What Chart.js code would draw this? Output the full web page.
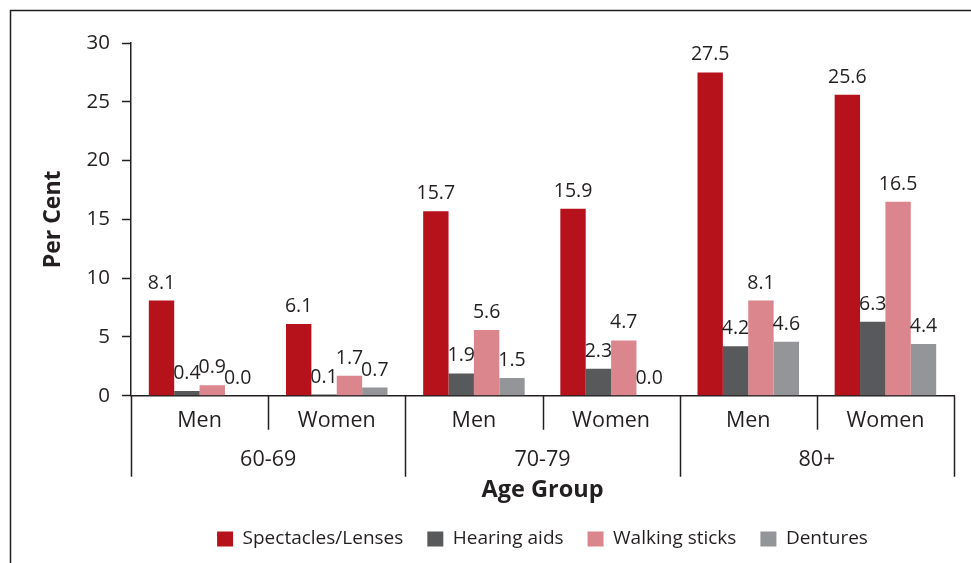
<!DOCTYPE html>
<html>
<head>
<meta charset="utf-8">
<script src="https://cdn.jsdelivr.net/npm/chart.js@4"></script>
<style>
  html, body { margin: 0; padding: 0; background: #ffffff; overflow: hidden; }
  #wrap { width: 971px; height: 563px; }
</style>
</head>
<body>
<div id="wrap"><canvas id="c" width="971" height="563"></canvas></div>
<script>
// ---- data ----
const ageGroups = ['60-69', '70-79', '80+'];
const sexes = ['Men', 'Women'];
const categories = ['Men', 'Women', 'Men', 'Women', 'Men', 'Women'];
const seriesNames = ['Spectacles/Lenses', 'Hearing aids', 'Walking sticks', 'Dentures'];
const spectacles = [8.1, 6.1, 15.7, 15.9, 27.5, 25.6];
const hearingAids = [0.4, 0.1, 1.9, 2.3, 4.2, 6.3];
const walkingSticks = [0.9, 1.7, 5.6, 4.7, 8.1, 16.5];
const dentures = [0.0, 0.7, 1.5, 0.0, 4.6, 4.4];
const yMin = 0, yMax = 30, yStep = 5;

const seriesColors = ['#b5121b', '#58595b', '#db868c', '#939598'];
const textColor = '#231f20';
const FONT = "'Open Sans', 'Noto Sans', sans-serif";

// frame around the figure
const framePlugin = {
  id: 'frame',
  beforeDraw(chart) {
    const ctx = chart.ctx;
    ctx.save();
    ctx.strokeStyle = textColor;
    ctx.lineWidth = 1.5;
    ctx.beginPath();
    ctx.moveTo(10.5, chart.height);
    ctx.lineTo(10.5, 10.5);
    ctx.lineTo(chart.width, 10.5);
    ctx.stroke();
    ctx.restore();
  }
};

// value labels above bars
const valueLabels = {
  id: 'valueLabels',
  afterDatasetsDraw(chart) {
    const ctx = chart.ctx;
    ctx.save();
    ctx.font = "19.5px " + FONT;
    ctx.fillStyle = textColor;
    ctx.textAlign = 'center';
    ctx.textBaseline = 'alphabetic';
    chart.data.datasets.forEach((ds, di) => {
      const meta = chart.getDatasetMeta(di);
      meta.data.forEach((bar, i) => {
        ctx.fillText(ds.data[i].toFixed(1), bar.x, bar.y - 12);
      });
    });
    ctx.restore();
  }
};

// category separators for the two-level axis
const separators = {
  id: 'separators',
  afterDraw(chart) {
    const x = chart.scales.x;
    const x2 = chart.scales.x2;
    const ctx = chart.ctx;
    const n = categories.length;
    const step = x.getPixelForValue(1) - x.getPixelForValue(0);
    ctx.save();
    ctx.strokeStyle = textColor;
    ctx.lineWidth = 1.5;
    for (let i = 0; i <= n; i++) {
      const px = Math.round(x.getPixelForValue(0) - step / 2 + i * step) + 0.5;
      const major = (i % sexes.length) === 0;
      const yEnd = major ? x2.top + 41 : x.bottom - 6;
      ctx.beginPath();
      ctx.moveTo(px, x.top);
      ctx.lineTo(px, yEnd);
      ctx.stroke();
    }
    ctx.restore();
  }
};

const datasets = [spectacles, hearingAids, walkingSticks, dentures].map((d, i) => ({
  label: seriesNames[i],
  data: d,
  backgroundColor: seriesColors[i],
  borderWidth: 0,
  barPercentage: 1.0,
  categoryPercentage: 0.74
}));

new Chart(document.getElementById('c'), {
  type: 'bar',
  data: { labels: categories, datasets },
  plugins: [framePlugin, valueLabels, separators],
  options: {
    responsive: false,
    devicePixelRatio: 1,
    animation: false,
    layout: { padding: { left: 22, right: 17, top: 43, bottom: 4.5 } },
    plugins: {
      tooltip: { enabled: false },
      legend: {
        position: 'bottom',
        fullSize: false,
        labels: {
          boxWidth: 16,
          boxHeight: 15,
          padding: 24,
          color: textColor,
          font: { family: FONT, size: 19 }
        }
      }
    },
    scales: {
      y: {
        min: yMin, max: yMax,
        ticks: { stepSize: yStep, padding: 12, color: textColor, font: { family: FONT, size: 20.5 } },
        grid: { display: true, drawOnChartArea: false, drawTicks: true, tickLength: 9, tickColor: textColor, tickWidth: 1.5 },
        border: { display: true, color: textColor, width: 1.5 },
        title: { display: true, text: 'Per Cent', color: textColor, font: { family: FONT, size: 23, weight: 'bold' }, padding: { top: 18, bottom: 0 } },
        afterFit(scale) { scale.width = 109; }
      },
      x: {
        weight: 1,
        offset: true,
        ticks: { padding: 12, autoSkip: false, maxRotation: 0, color: textColor, font: { family: FONT, size: 21.5 } },
        grid: { display: false, drawTicks: false },
        border: { display: true, color: textColor, width: 1.5 },
        afterFit(scale) { scale.height = 40; }
      },
      x2: {
        type: 'category',
        position: 'bottom',
        weight: 2,
        labels: ageGroups,
        offset: true,
        ticks: { padding: 11, autoSkip: false, maxRotation: 0, color: textColor, font: { family: FONT, size: 21.5 } },
        grid: { display: false, drawTicks: false },
        border: { display: false },
        title: { display: true, text: 'Age Group', color: textColor, font: { family: FONT, size: 23.5, weight: 'bold' }, padding: { top: 0, bottom: 1 } },
        afterFit(scale) { scale.height = 69.75; }
      }
    }
  }
});
</script>
</body>
</html>
